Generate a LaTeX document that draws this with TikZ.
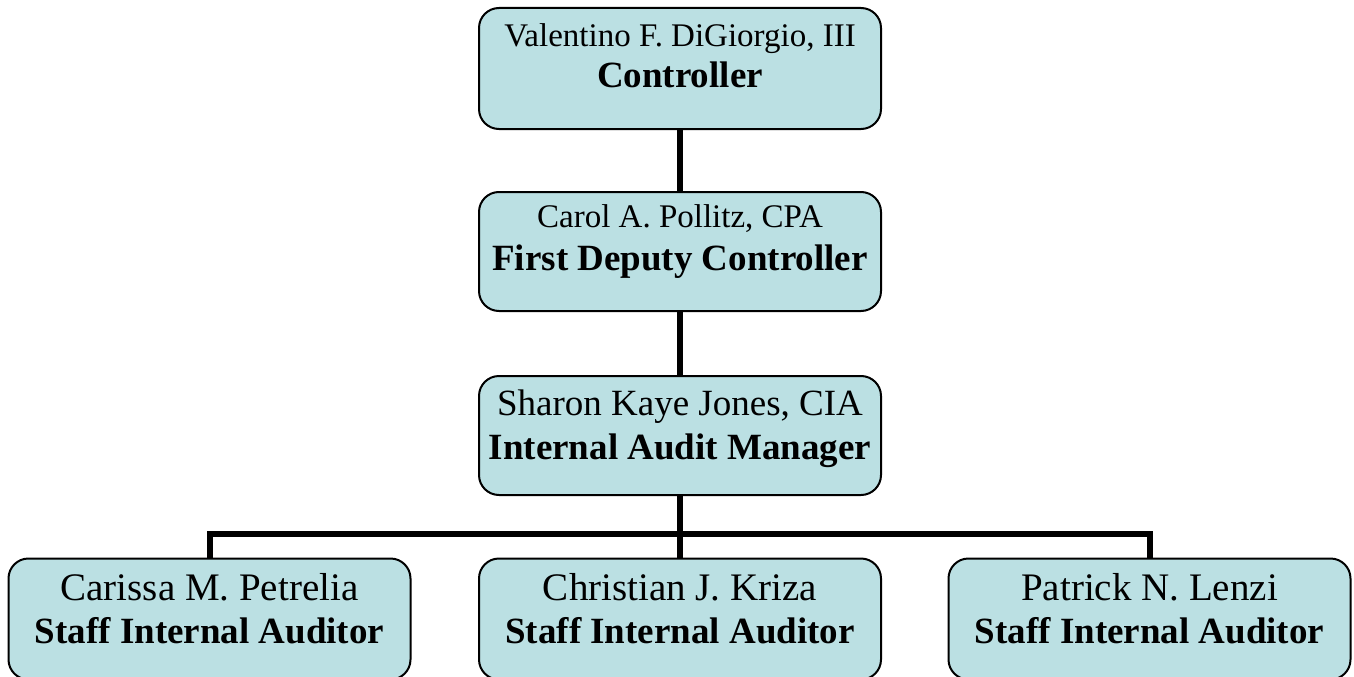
\documentclass[tikz,border=0pt]{standalone}
\usepackage{fontspec}
\setmainfont{Liberation Serif}
\definecolor{boxfill}{RGB}{187,224,227}
\tikzset{
  box/.style={draw=black, line width=2pt, fill=boxfill, rounded corners=20pt, minimum width=402pt, inner sep=0pt, anchor=center},
  nm/.style={anchor=base, inner sep=0pt, font=\fontsize{#1}{#1}\selectfont},
  tt/.style={anchor=base, inner sep=0pt, font=\fontsize{#1}{#1}\selectfont\bfseries},
  conn/.style={line width=6pt, draw=black, line join=miter}
}
\begin{document}
\begin{tikzpicture}[x=1pt,y=-1pt]
\useasboundingbox (0,0) rectangle (1354,677);
% boxes
\node[box, minimum height=121pt] (b1) at (680,68.5) {};
\node[box, minimum height=119pt] (b2) at (680,251.5) {};
\node[box, minimum height=119pt] (b3) at (680,435.5) {};
\node[box, minimum height=121pt] (s1) at (209.5,619) {};
\node[box, minimum height=121pt] (s2) at (680,619) {};
\node[box, minimum height=121pt] (s3) at (1149.5,619) {};
% connectors
\coordinate (bus) at (680,533.5);
\draw[conn] (b1.south) -- (b2.north);
\draw[conn] (b2.south) -- (b3.north);
\draw[conn] (b3.south) -- (bus);
\draw[conn] (s1.north) |- (bus) -| (s3.north);
\draw[conn] (bus) -- (s2.north);
% texts
\node[nm=33] (t1a) at (680,47) {Valentino F. DiGiorgio, III};
\node[tt=37] (t1b) at (680,88) {Controller};
\node[nm=33] (t2a) at (680,227) {Carol A. Pollitz, CPA};
\node[tt=37] (t2b) at (680,270) {First Deputy Controller};
\node[nm=37] (t3a) at (680,415) {Sharon Kaye Jones, CIA};
\node[tt=37] (t3b) at (680,459) {Internal Audit Manager};
\node[nm=39] (t4a) at (209.5,600) {Carissa M. Petrelia};
\node[tt=37] (t4b) at (209.5,643) {Staff Internal Auditor};
\node[nm=39] (t5a) at (680,600) {Christian J. Kriza};
\node[tt=37] (t5b) at (680,643) {Staff Internal Auditor};
\node[nm=39] (t6a) at (1149.5,600) {Patrick N. Lenzi};
\node[tt=37] (t6b) at (1149.5,643) {Staff Internal Auditor};
\end{tikzpicture}
\end{document}
